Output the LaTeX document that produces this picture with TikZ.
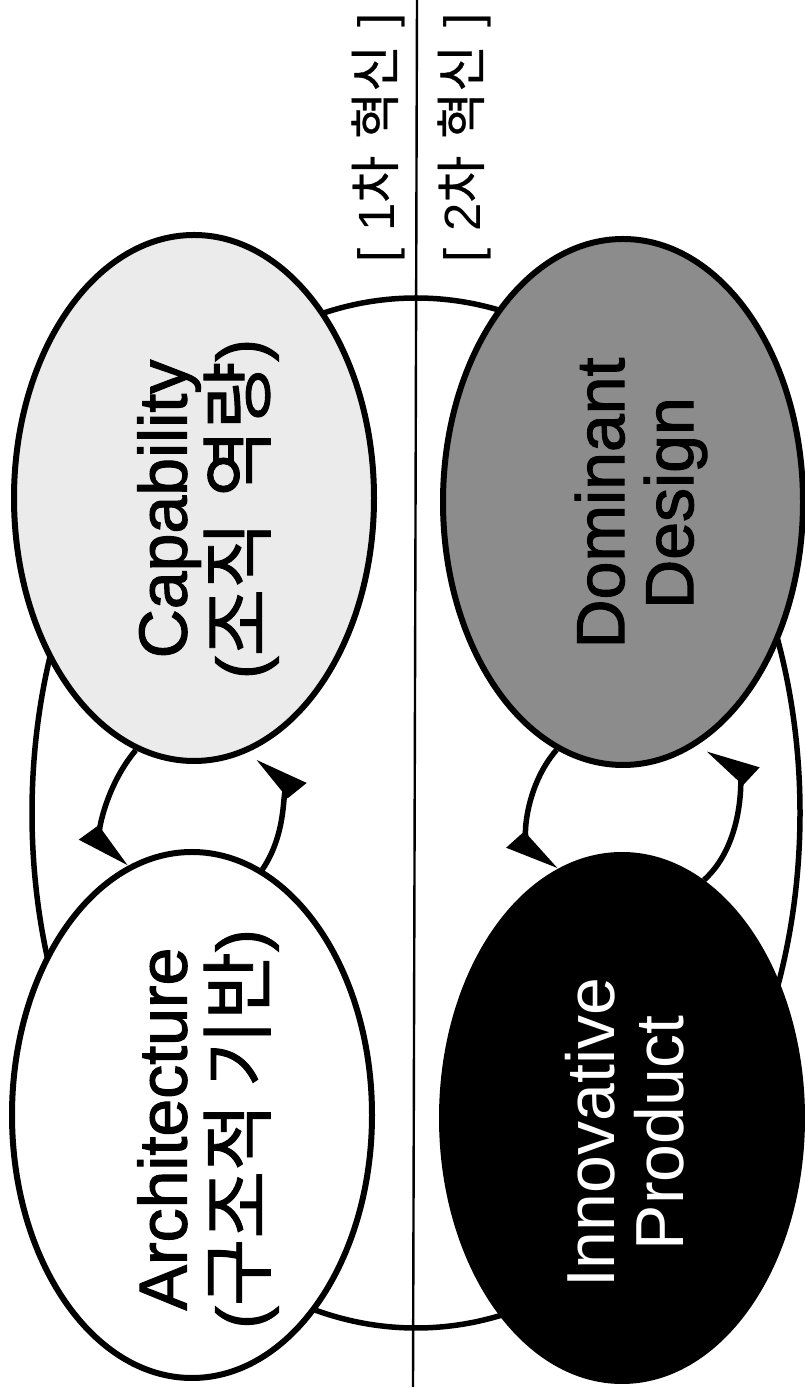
\documentclass[tikz,border=0pt]{standalone}
\usepackage{fontspec}
\setmainfont{Liberation Sans}
\newfontfamily\heavy{Liberation Sans}[FakeBold=1.6]
\newfontfamily\kr{Noto Sans CJK KR}[Scale=1.08,FakeBold=1.2]
\newfontfamily\krtag{Noto Sans CJK KR}[FakeBold=0.6]
\usetikzlibrary{arrows.meta,shapes.geometric}
\begin{document}
\begin{tikzpicture}[x=1pt,y=1pt,
  bubble/.style={ellipse, draw=black, line width=6pt, minimum width=360pt, minimum height=526pt, inner sep=0pt},
  outerloop/.style={ellipse, draw=black, line width=5.5pt, minimum width=768pt, minimum height=1030pt, inner sep=0pt},
  loopline/.style={line width=5.5pt},
  tipend/.style={-{Triangle[harpoon,swap,length=44pt,width=42pt]}},
  lab/.style={rotate=90, align=center, font=\heavy\fontsize{68}{78}\selectfont, inner sep=0pt},
  labtight/.style={rotate=90, align=center, font=\heavy\fontsize{68}{69}\selectfont, inner sep=0pt},
  thinlab/.style={rotate=90, align=center, font=\fontsize{68}{69}\selectfont, inner sep=0pt},
  tag/.style={rotate=90, font=\fontsize{51}{60}\selectfont, inner sep=0pt}
]
\useasboundingbox (0,0) rectangle (805,1390);
\fill[white] (0,0) rectangle (805,1390);
\node[outerloop] (outer) at (416,577) {};
\coordinate (vtop) at (417,1390);
\coordinate (vbot) at (413,3);
\draw[line width=2.4pt] (vtop) -- (vbot);

\node[bubble, fill=black!8] (cap) at (194,892) {};
\node[bubble, fill=black!45] (dom) at (623,888) {};
\node[bubble, fill=white] (arch) at (192,275) {};
\node[bubble, fill=black] (inn) at (622,272) {};

\draw[loopline, tipend] (cap.257) to[out=230, in=126] (arch.105);
\draw[loopline, tipend, shorten >=10pt] (arch.74) to[out=56, in=-51] (cap.283);
\draw[loopline, tipend] (dom.255) to[out=229, in=132] (inn.105);
\draw[loopline, tipend, shorten >=10pt] (inn.71) to[out=42, in=-43] (dom.288);

\node[lab] (captext) at (208,881) {Capability\\({\kr 조직\,\,역량})};
\node[labtight] (domtext) at (641,887) {Dominant\\Design};
\node[thinlab, text=white] (inntext) at (625,257) {Innovative\\Product};
\node[lab] (archtext) at (208,261) {Architecture\\({\kr 구조적 기반})};
\node[tag] (t1) at (378,1252) {[\,\,1{\krtag 차\,\,혁신}\,\,]};
\node[tag] (t2) at (464,1252) {[\,\,2{\krtag 차\,\,혁신}\,\,]};
\end{tikzpicture}
\end{document}
